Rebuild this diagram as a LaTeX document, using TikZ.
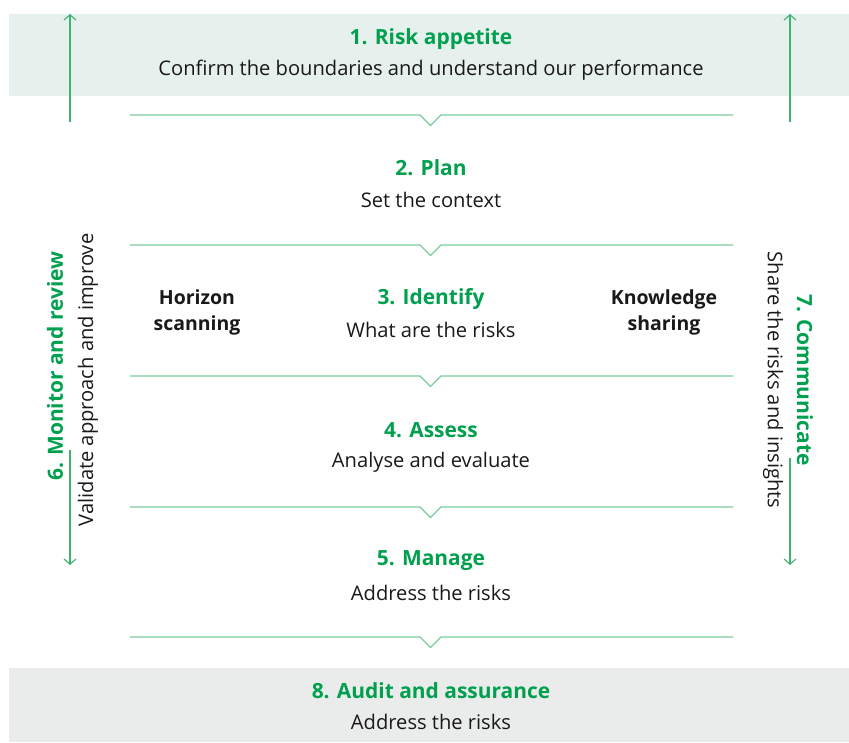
\documentclass[tikz,border=0pt]{standalone}
\usepackage{fontspec}
\setmainfont{Open Sans}
\usetikzlibrary{arrows.meta}
\definecolor{riskgreen}{HTML}{00A04F}
\definecolor{lineGreen}{HTML}{7ACB9E}
\definecolor{arrowGreen}{HTML}{3DB36F}
\definecolor{topband}{HTML}{E6F0EC}
\definecolor{bottomband}{HTML}{EAECEB}
\tikzset{
  steptitle/.style={font=\fontsize{15.7}{18}\selectfont\bfseries, text=riskgreen, inner sep=0pt},
  steptext/.style={font=\fontsize{15.1}{17}\selectfont, text=black!90, inner sep=0pt},
  sidetext/.style={font=\fontsize{14.6}{19.5}\selectfont\bfseries, text=black!90, inner sep=0pt, align=center},
  divider/.style={lineGreen, line width=1pt},
  sidearrow/.style={arrowGreen, line width=0.8pt, -{Straight Barb[length=4pt,width=9pt]}}
}
\begin{document}
\begin{tikzpicture}[x=0.75pt, y=-0.75pt]
  \useasboundingbox (0,0) rectangle (849,742);
  % bands
  \fill[topband] (9,14) rectangle (849,96);
  \fill[bottomband] (9,668) rectangle (849,742);
  % dividers with notch
  \foreach \y in {115,245,376,507,637}
    \draw[divider] (130,\y) -- (420,\y) -- (430.5,\y+10.5) -- (441,\y) -- (733,\y);
  % steps
  \node[steptitle] (appetite) at (431,39) {1. Risk appetite};
  \node[steptext] (appetitetxt) at (431,70) {Confirm the boundaries and understand our performance};
  \node[steptitle] (plan) at (431,168) {2. Plan};
  \node[steptext] (plantxt) at (431,200) {Set the context};
  \node[steptitle] (identify) at (431,299) {3. Identify};
  \node[steptext] (identifytxt) at (431,330) {What are the risks};
  \node[sidetext] (horizon) at (197,312) {Horizon\\scanning};
  \node[sidetext] (knowledge) at (664,312) {Knowledge\\sharing};
  \node[steptitle] (assess) at (431,430) {4. Assess};
  \node[steptext] (assesstxt) at (431,462) {Analyse and evaluate};
  \node[steptitle] (manage) at (431,561) {5. Manage};
  \node[steptext] (managetxt) at (431,593) {Address the risks};
  \node[steptitle] (audit) at (431,691) {8. Audit and assurance};
  \node[steptext] (audittxt) at (431,722) {Address the risks};
  % side labels
  \node[steptitle, rotate=90] (monitor) at (55,366) {6. Monitor and review};
  \node[steptext, rotate=90] (monitortxt) at (88,380) {Validate approach and improve};
  \node[steptitle, rotate=-90] (communicate) at (805,380) {7. Communicate};
  \node[steptext, rotate=-90] (communicatetxt) at (773,380) {Share the risks and insights};
  % arrows
  \coordinate (lefttop) at (70,14);
  \coordinate (leftmid) at (70,122);
  \coordinate (righttop) at (790,14);
  \coordinate (rightmid) at (790,122);
  \coordinate (leftlow) at (70,565);
  \coordinate (leftstart) at (70,450);
  \coordinate (rightlow) at (790,565);
  \coordinate (rightstart) at (790,458);
  \draw[sidearrow] (leftmid) -- (lefttop);
  \draw[sidearrow] (rightmid) -- (righttop);
  \draw[sidearrow] (leftstart) -- (leftlow);
  \draw[sidearrow] (rightstart) -- (rightlow);
\end{tikzpicture}
\end{document}
